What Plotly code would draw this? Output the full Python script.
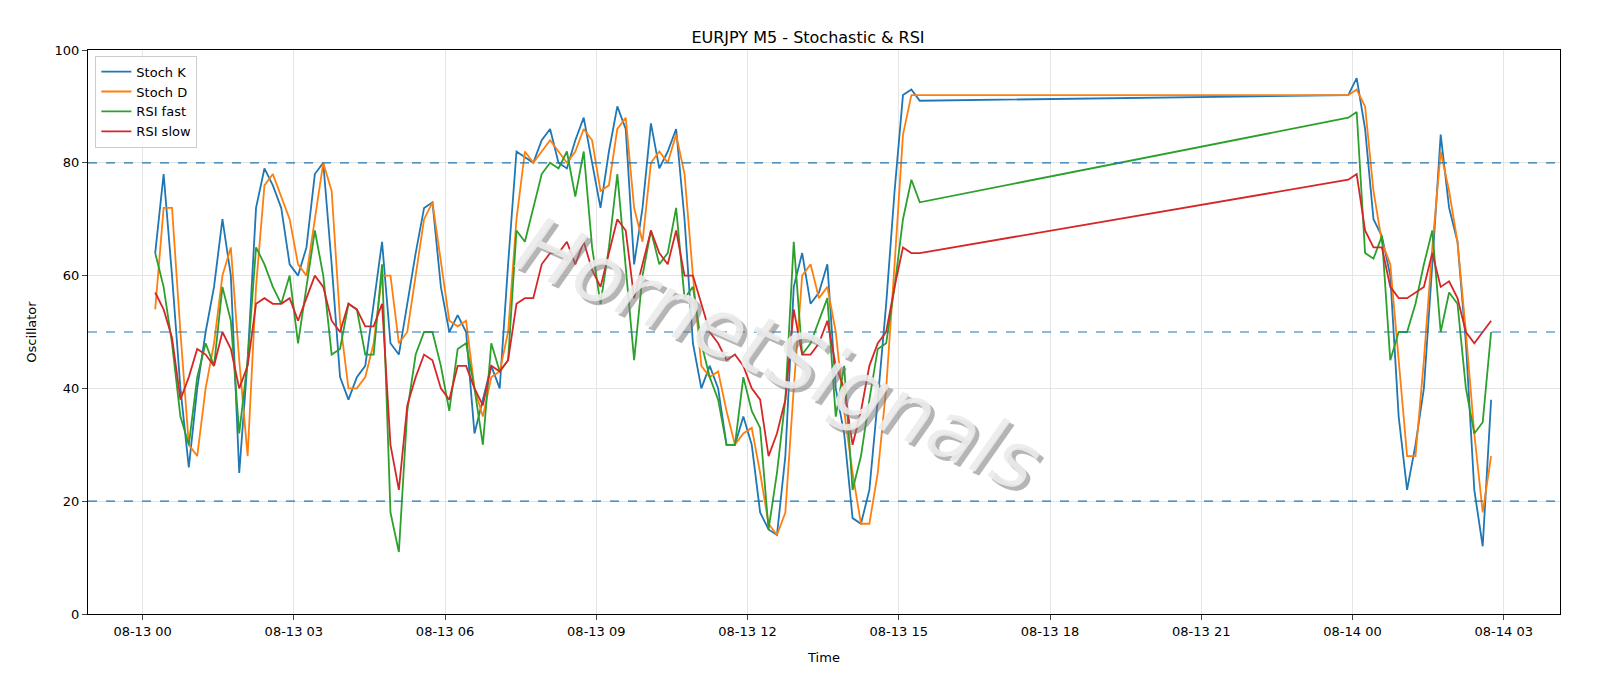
import pandas as pd
import plotly.graph_objects as go

t1 = pd.date_range("2025-08-13 00:15", periods=92, freq="10min")
t2 = pd.date_range("2025-08-13 23:55", periods=18, freq="10min")
times = list(t1) + list(t2)

stoch_k = [64,78,60,40,26,40,50,58,70,60,25,45,72,79,76,72,62,60,65,78,80,62,42,38,42,44,55,66,48,46,
           55,64,72,73,58,50,53,50,32,38,44,40,62,82,81,80,84,86,80,79,84,88,80,72,82,90,86,62,72,87,
           79,82,86,70,48,40,44,40,30,30,35,30,18,15,14,28,58,64,55,57,62,40,32,17,16,22,38,55,75,92,93,91,
           92,95,86,70,67,60,35,22,30,40,62,85,72,66,48,22,12,38]
stoch_d = [54,72,72,50,30,28,40,48,60,65,45,28,58,76,78,74,70,62,60,70,80,75,52,40,40,42,48,60,60,48,
           50,60,70,73,62,52,51,52,40,35,42,43,50,70,82,80,82,84,82,80,82,86,84,75,76,86,88,72,66,80,
           82,80,85,78,60,44,42,43,36,30,32,33,25,16,14,18,40,60,62,56,58,50,36,25,16,16,25,40,62,85,92,92,
           92,93,90,75,66,62,45,28,28,45,65,82,75,66,50,32,18,28]
rsi_fast = [64,58,48,35,30,42,48,44,58,52,32,45,65,62,58,55,60,48,58,68,60,46,47,55,54,46,46,62,18,11,
            36,46,50,50,44,36,47,48,40,30,48,43,45,68,66,72,78,80,79,82,74,82,65,55,65,78,62,45,60,68,
            62,64,72,56,58,48,42,38,30,30,42,36,33,15,25,38,66,46,48,52,56,35,44,22,28,38,47,48,58,70,77,73,
            88,89,64,63,67,45,50,50,55,62,68,50,57,55,40,32,34,50]
rsi_slow = [57,54,49,38,42,47,46,44,50,47,40,44,55,56,55,55,56,52,56,60,58,52,50,55,54,51,51,55,30,22,
            37,42,46,45,40,38,44,44,40,37,44,43,45,55,56,56,62,64,64,66,62,66,61,58,64,70,68,56,62,68,
            64,62,68,60,60,55,50,48,45,46,44,40,38,28,32,38,54,46,46,48,52,44,40,30,36,44,48,50,58,65,64,64,
            77,78,68,65,65,58,56,56,57,58,64,58,59,56,50,48,50,52]
levels = [20, 50, 80]

fig = go.Figure()
for name, ys, c in [("Stoch K", stoch_k, "#1f77b4"), ("Stoch D", stoch_d, "#ff7f0e"),
                    ("RSI fast", rsi_fast, "#2ca02c"), ("RSI slow", rsi_slow, "#d62728")]:
    fig.add_trace(go.Scatter(x=times, y=ys, mode="lines", name=name, line=dict(color=c, width=1.8)))
for lv in levels:
    fig.add_hline(y=lv, line=dict(color="#1f77b4", width=1.2, dash="dash"))

for dx, col in [(4, "rgba(120,120,120,0.55)"), (0, "rgba(235,235,235,0.9)")]:
    fig.add_annotation(text="<i>HornetSignals</i>", xref="paper", yref="paper", x=0.47, y=0.46,
                       xshift=dx, yshift=-dx, showarrow=False, textangle=24,
                       font=dict(size=80, color=col, family="DejaVu Sans"))

fig.update_layout(
    width=1600, height=686, plot_bgcolor="white", paper_bgcolor="white",
    margin=dict(l=80, r=48, t=42, b=80),
    title=dict(text="EURJPY M5 - Stochastic & RSI", x=0.5, y=0.965, font=dict(size=16, color="black")),
    font=dict(family="DejaVu Sans", size=13, color="black"),
    legend=dict(x=0.005, y=0.99, xanchor="left", yanchor="top", bordercolor="#cccccc", borderwidth=1,
                bgcolor="rgba(255,255,255,0.8)"),
    xaxis=dict(title=dict(text="Time", font=dict(size=13)), range=["2025-08-12 22:55", "2025-08-14 04:07"],
               tickformat="%m-%d %H", dtick=3*3600*1000, tick0="2025-08-13 00:00", showgrid=True,
               gridcolor="#e5e5e5", showline=True, linecolor="black", mirror=True, ticks="outside"),
    yaxis=dict(title=dict(text="Oscillator", font=dict(size=13)), range=[0, 100], dtick=20, showgrid=True,
               gridcolor="#e5e5e5", showline=True, linecolor="black", mirror=True, ticks="outside",
               zeroline=False),
)
fig.write_html("out.html")
